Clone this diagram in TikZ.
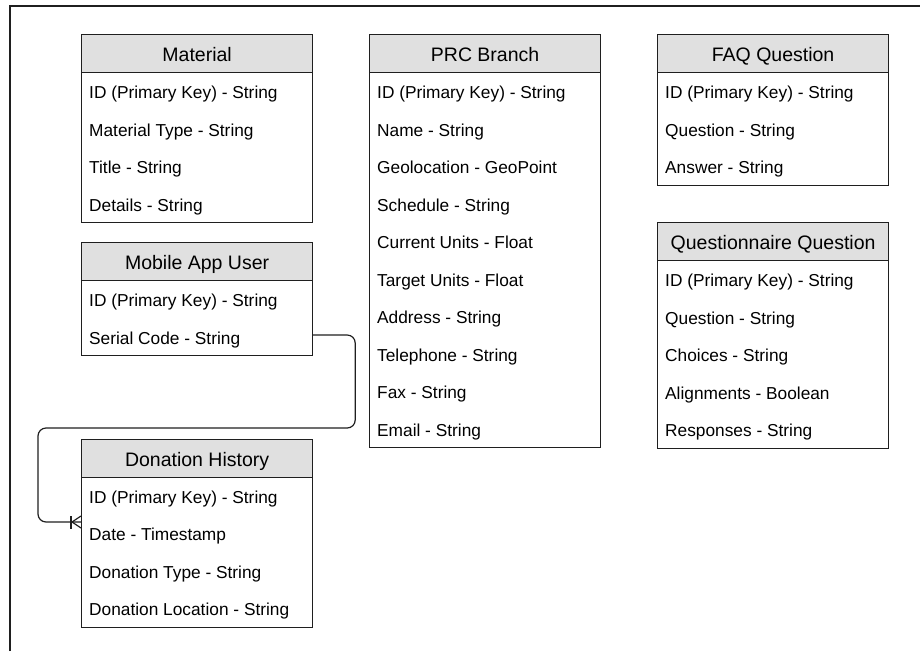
\documentclass[tikz,border=0pt]{standalone}
\usepackage{fontspec}
\setmainfont{Liberation Sans}
\tikzset{x=1pt,y=-1pt,
  lines/.style={draw=black!88, line width=1.2pt},
  hdr/.style={lines, fill=black!12, minimum width=231pt, minimum height=38pt,
    anchor=north west, inner sep=0pt, text height=16pt, text depth=0pt,
    font=\fontsize{19.5}{22}\selectfont},
  bodybox/.style={lines, minimum width=231pt, anchor=north west, inner sep=0pt},
  field/.style={anchor=base west, inner sep=0pt, font=\fontsize{17.3}{20}\selectfont},
  conn/.style={lines, rounded corners=8pt},
}
% #1 name, #2 x, #3 y, #4 number of rows, #5 title, #6 fields
\newcommand\erentity[6]{%
  \node[bodybox, minimum height=#4*37.5pt] (#1-body) at (#2,#3+38) {};
  \node[hdr] (#1) at (#2,#3) {#5};
  \foreach \t [count=\i] in {#6}
    \node[field] (#1-\i) at (#2+8,#3+38+\i*37.5-18.75+8) {\t};
}
\begin{document}
\begin{tikzpicture}
\useasboundingbox (0,0) rectangle (920,651);
\draw[lines] (10,651) -- (10,6) -- (920,6);

\erentity{mat}{81}{34}{4}{Material}{{ID (Primary Key) - String},{Material Type - String},{Title - String},{Details - String}}
\erentity{mau}{81}{242}{2}{Mobile App User}{{ID (Primary Key) - String},{Serial Code - String}}
\erentity{dh}{81}{438.5}{4}{Donation History}{{ID (Primary Key) - String},{Date - Timestamp},{Donation Type - String},{Donation Location - String}}
\erentity{prc}{369}{34}{10}{PRC Branch}{{ID (Primary Key) - String},{Name - String},{Geolocation - GeoPoint},{Schedule - String},{Current Units - Float},{Target Units - Float},{Address - String},{Telephone - String},{Fax - String},{Email - String}}
\erentity{faq}{657}{34}{3}{FAQ Question}{{ID (Primary Key) - String},{Question - String},{Answer - String}}
\erentity{qq}{657}{222}{5}{Questionnaire Question}{{ID (Primary Key) - String},{Question - String},{Choices - String},{Alignments - Boolean},{Responses - String}}

\coordinate (dhin) at (dh-body.west |- 0,522);
\draw[conn] (mau-body.east |- 0,335) -- ++(42,0) |- (38,428) |- (dhin);
\draw[lines] (71,516) -- (71,529);
\draw[lines] ([yshift=6pt]dhin) -- (72,522) -- ([yshift=-6pt]dhin);
\end{tikzpicture}
\end{document}
